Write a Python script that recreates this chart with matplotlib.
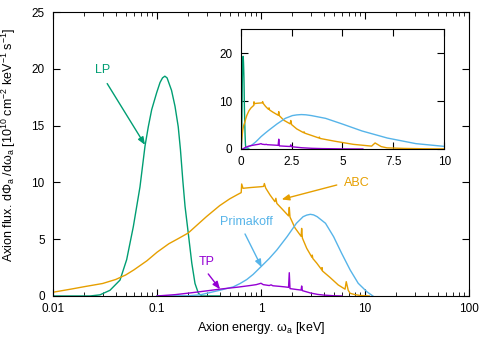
import matplotlib.pyplot as plt
import numpy as np

plt.rcParams['font.family'] = ['Liberation Sans', 'DejaVu Sans']
plt.rcParams['mathtext.fontset'] = 'custom'
plt.rcParams['mathtext.rm'] = 'Liberation Sans'
plt.rcParams['mathtext.it'] = 'Liberation Sans'
plt.rcParams['font.size'] = 9

# colours (gnuplot-ish)
c_lp = '#009e73'
c_abc = '#e69f00'
c_prim = '#56b4e9'
c_tp = '#9400d3'

# LP
lp_e = [0.01, 0.0227, 0.0283, 0.0353, 0.0441, 0.0511, 0.0592, 0.0686, 0.0767, 0.0825,
        0.0889, 0.0993, 0.107, 0.113, 0.119, 0.125, 0.138, 0.149, 0.160, 0.168,
        0.177, 0.186, 0.2, 0.216, 0.232, 0.25, 0.269, 0.4]
lp_v = [0.0, 0.0, 0.1, 0.5, 1.4, 3.2, 6.1, 9.6, 13.2, 14.9,
        16.4, 17.9, 18.8, 19.2, 19.35, 19.2, 18.1, 16.7, 14.9, 12.9,
        10.2, 7.9, 5.5, 2.9, 1.1, 0.24, 0.0, 0.0]

# ABC
abc_e = [0.01, 0.015, 0.02, 0.03, 0.04, 0.05, 0.06, 0.08, 0.1, 0.13, 0.16, 0.2, 0.25,
         0.3, 0.4, 0.5, 0.6, 0.645, 0.652, 0.671, 0.8, 1.0, 1.06, 1.077, 1.11, 1.22,
         1.36, 1.39, 1.42, 1.58, 1.84, 1.87, 1.9, 2.12, 2.43, 2.46, 2.5, 2.75, 3.09,
         3.11, 3.15, 3.43, 3.84, 3.86, 3.9, 4.6, 5.53, 6.43, 6.6, 6.9, 7.18, 8.0,
         8.95, 10, 11]
abc_v = [0.33, 0.61, 0.82, 1.1, 1.45, 1.85, 2.3, 3.1, 3.85, 4.6, 5.05, 5.55, 6.35,
         7.0, 7.95, 8.55, 8.95, 9.1, 9.86, 9.48, 9.55, 9.62, 9.65, 9.9, 9.5, 8.9,
         8.3, 8.6, 8.15, 7.7, 7.05, 7.8, 6.95, 6.0, 5.25, 5.95, 5.1, 4.2, 3.4,
         3.6, 3.3, 2.9, 2.3, 2.5, 2.2, 1.64, 0.97, 0.6, 1.26, 0.5, 0.24, 0.12,
         0.05, 0.02, 0.0]

# Primakoff
prim_e = [0.1, 0.2, 0.26, 0.4, 0.54, 0.63, 0.73, 0.84, 1.0, 1.2, 1.42, 1.78, 2.19,
          2.54, 2.75, 2.98, 3.2, 3.47, 4.17, 4.99, 5.96, 7.2, 8.6, 10.4, 11.9]
prim_v = [0.0, 0.02, 0.1, 0.5, 0.8, 1.1, 1.45, 1.9, 2.58, 3.3, 4.05, 5.22, 6.4,
          6.98, 7.12, 7.19, 7.14, 6.98, 6.4, 5.22, 3.76, 2.29, 1.12, 0.38, 0.0]

# TP
tp_e = [0.1, 0.15, 0.2, 0.3, 0.4, 0.5, 0.6, 0.7, 0.8, 0.9, 1.0, 1.05, 1.2, 1.25,
        1.3, 1.5, 1.7, 1.84, 1.87, 1.9, 2.2, 2.43, 2.46, 2.5, 3.0, 3.5, 4.0, 5.0, 6.0]
tp_v = [0.0, 0.12, 0.25, 0.45, 0.6, 0.7, 0.78, 0.86, 0.93, 1.0, 1.12, 1.0, 0.92, 0.98,
        0.9, 0.85, 0.8, 0.76, 2.05, 0.65, 0.57, 0.52, 0.88, 0.47, 0.26, 0.14, 0.08, 0.02, 0.0]

series = [(lp_e, lp_v, c_lp), (abc_e, abc_v, c_abc),
          (prim_e, prim_v, c_prim), (tp_e, tp_v, c_tp)]

fig = plt.figure(figsize=(4.98, 3.49), dpi=100)
ax = fig.add_axes([0.1064, 0.1519, 0.8354, 0.8137])

for e, v, c in series:
    ax.plot(e, v, color=c, lw=1.0)

ax.set_xscale('log')
ax.set_xlim(0.01, 100)
ax.set_ylim(0, 25)
ax.set_xticks([0.01, 0.1, 1, 10, 100])
ax.set_xticklabels(['0.01', '0.1', '1', '10', '100'])
ax.set_yticks([0, 5, 10, 15, 20, 25])
ax.tick_params(which='both', direction='in', top=True, right=True, labelsize=8.5)
ax.tick_params(which='major', length=5)
ax.tick_params(which='minor', length=3)
ax.tick_params(axis='x', pad=5)
ax.tick_params(axis='y', pad=6)
ax.set_xlabel(r'Axion energy. $\mathrm{\omega_a}$ [keV]', labelpad=4)
ax.set_ylabel(r'Axion flux. d$\mathrm{\Phi_a}$ /d$\mathrm{\omega_a}$ '
              r'[10$^{\mathrm{10}}$ cm$^{\mathrm{-2}}$ keV$^{\mathrm{-1}}$ s$^{\mathrm{-1}}$]')
ax.yaxis.set_label_coords(-0.084, 0.532)

# labels with arrows
arr = dict(arrowstyle='-|>,head_length=0.5,head_width=0.2', lw=1.0, shrinkA=0, shrinkB=0)
ax.annotate('', xy=(0.0767, 13.3), xytext=(0.0332, 18.7),
            arrowprops=dict(arr, color=c_lp))
ax.text(0.0303, 19.9, 'LP', color=c_lp, ha='center', va='center')
ax.annotate('', xy=(1.58, 8.5), xytext=(5.35, 9.77),
            arrowprops=dict(arr, color=c_abc))
ax.text(8.32, 9.97, 'ABC', color=c_abc, ha='center', va='center')
ax.annotate('', xy=(1.015, 2.53), xytext=(0.702, 5.46),
            arrowprops=dict(arr, color=c_prim))
ax.text(0.729, 6.49, 'Primakoff', color=c_prim, ha='center', va='center')
ax.annotate('', xy=(0.404, 0.59), xytext=(0.311, 1.94),
            arrowprops=dict(arr, color=c_tp))
ax.text(0.30, 2.97, 'TP', color=c_tp, ha='center', va='center')

# inset, linear scale
axi = fig.add_axes([0.4833, 0.5731, 0.4089, 0.3429])
for e, v, c in series:
    axi.plot(e, v, color=c, lw=1.0)
axi.set_xlim(0, 10)
axi.set_ylim(0, 25)
axi.set_xticks([0, 2.5, 5, 7.5, 10])
axi.set_xticklabels(['0', '2.5', '5', '7.5', '10'])
axi.set_yticks([0, 10, 20])
axi.tick_params(direction='in', top=True, right=True, length=5, labelsize=8.5)
axi.tick_params(axis='x', pad=5)
axi.tick_params(axis='y', pad=6)

plt.savefig('out.png', dpi=100)
plt.close()
